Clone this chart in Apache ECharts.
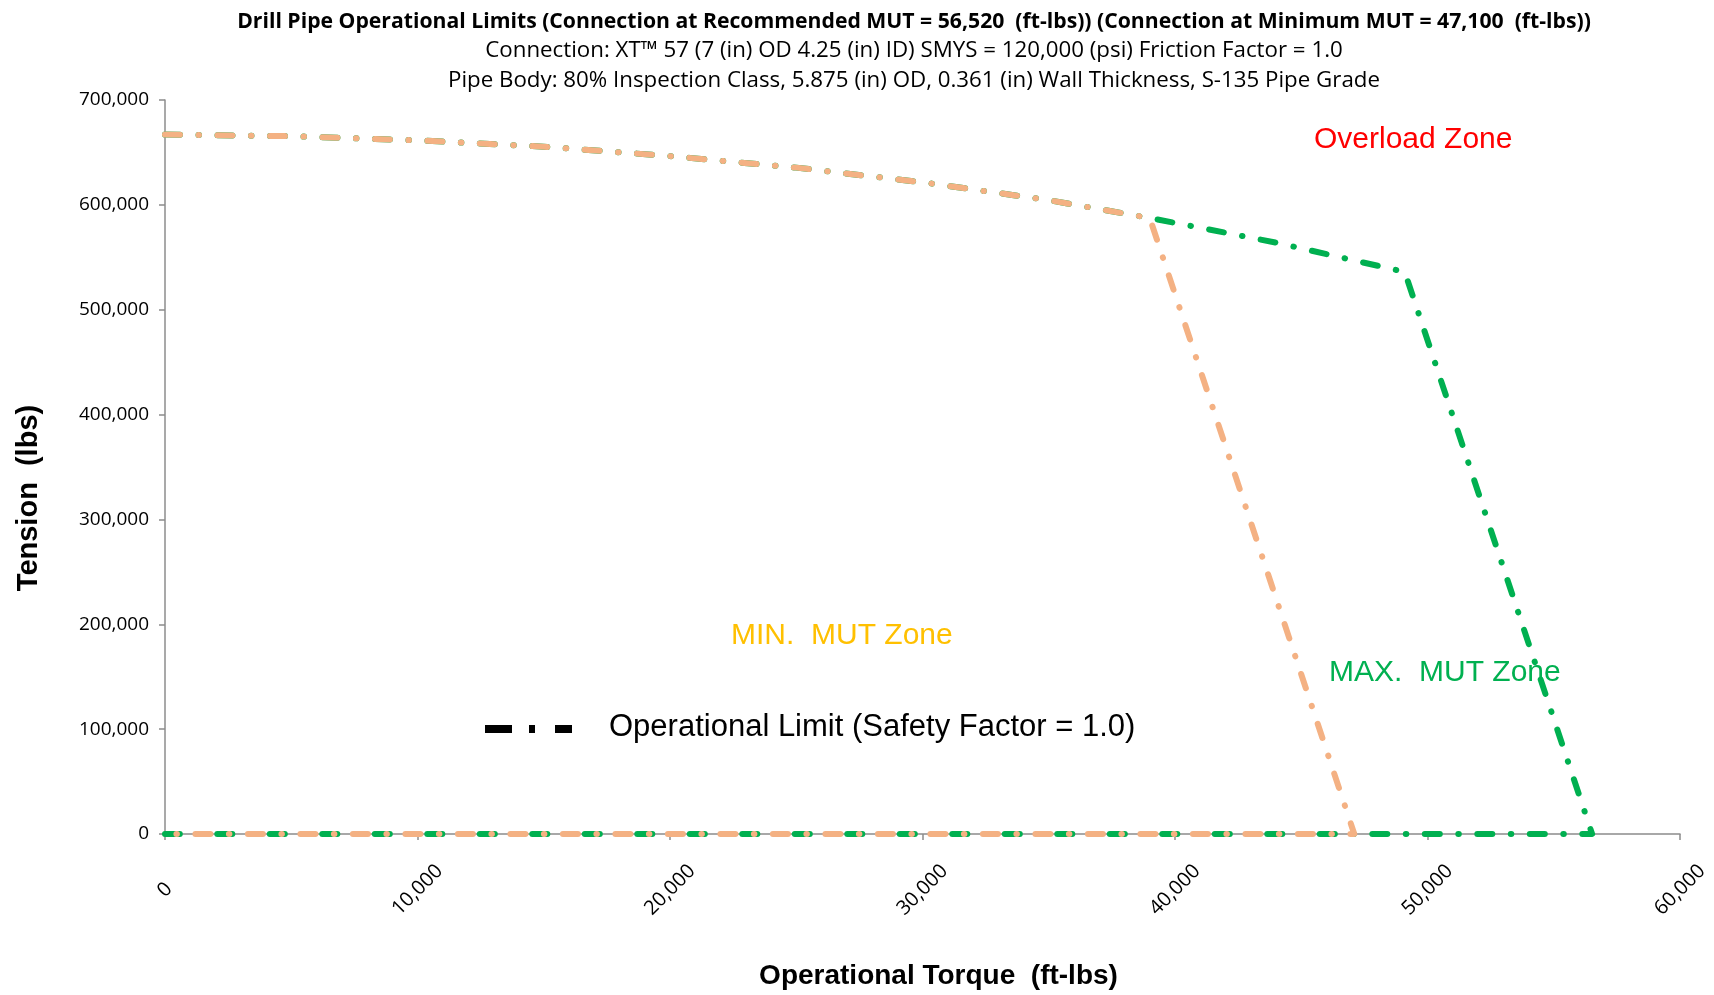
<!DOCTYPE html>
<html>
<head>
<meta charset="utf-8">
<script src="https://cdn.jsdelivr.net/npm/echarts@6/dist/echarts.min.js"></script>
<style>
html,body{margin:0;padding:0;background:#fff;}
#chart{width:1714px;height:995px;}
</style>
</head>
<body>
<div id="chart"></div>
<script>
// Shared pipe-body limit curve (torque ft-lbs, tension lbs)
const bodyTorque  = [0, 5000, 10000, 15000, 20000, 25000, 30000, 35000, 39000];
const bodyTension = [667000, 665500, 661500, 655500, 646500, 635500, 621500, 604500, 587500];
// Recommended MUT (green) continuation and connection limit
const maxTorque  = [44000, 49100, 56520, 0];
const maxTension = [564000, 536000, 0, 0];
// Minimum MUT (orange) connection limit
const minTorque  = [47100, 0];
const minTension = [0, 0];

const xTicks = [0, 10000, 20000, 30000, 40000, 50000, 60000];
const yTicks = [0, 100000, 200000, 300000, 400000, 500000, 600000, 700000];

const titleLines = [
  'Drill Pipe Operational Limits (Connection at Recommended MUT = 56,520  (ft-lbs)) (Connection at Minimum MUT = 47,100  (ft-lbs))',
  'Connection: XT\u2122 57 (7 (in) OD 4.25 (in) ID) SMYS = 120,000 (psi) Friction Factor = 1.0',
  'Pipe Body: 80% Inspection Class, 5.875 (in) OD, 0.361 (in) Wall Thickness, S-135 Pipe Grade'
];
const legendName = 'Operational Limit (Safety Factor = 1.0)';
const zoneLabels = ['Overload Zone', 'MIN.  MUT Zone', 'MAX.  MUT Zone'];

function pairs(xs, ys) { return xs.map((x, i) => [x, ys[i]]); }
const greenData = pairs(bodyTorque, bodyTension).concat(pairs(maxTorque, maxTension));
const orangeData = pairs(bodyTorque, bodyTension).concat(pairs(minTorque, minTension));

const fmt = v => v.toLocaleString('en-US');
const dashDot = [15, 18.5, 0.5, 18.5];

const chart = echarts.init(document.getElementById('chart'), null, {renderer: 'canvas'});
chart.setOption({
  backgroundColor: '#ffffff',
  animation: false,
  title: [
    {text: titleLines[0], left: 909, top: 6, textAlign: 'center',
     textStyle: {fontFamily: 'Open Sans', fontWeight: 'bold', fontSize: 21.2, color: '#000'}},
    {text: titleLines[1], left: 909, top: 35, textAlign: 'center',
     textStyle: {fontFamily: 'Open Sans', fontWeight: 'normal', fontSize: 22.3, color: '#000'}},
    {text: titleLines[2], left: 909, top: 65, textAlign: 'center',
     textStyle: {fontFamily: 'Open Sans', fontWeight: 'normal', fontSize: 22.3, color: '#000'}}
  ],
  grid: {left: 165, right: 34, top: 100, bottom: 158, containLabel: false},
  xAxis: {
    type: 'value', min: 0, max: 60000, interval: 10000,
    name: 'Operational Torque  (ft-lbs)', nameLocation: 'middle', nameGap: 128,
    nameTextStyle: {fontFamily: 'Liberation Sans', fontWeight: 'bold', fontSize: 28, color: '#000', padding: [0, 0, 0, 32]},
    axisLine: {show: true, lineStyle: {color: '#8c8c8c', width: 1.5}},
    axisTick: {show: true, length: 6, lineStyle: {color: '#8c8c8c', width: 1.5}},
    splitLine: {show: false},
    axisLabel: {rotate: 45, margin: 56, align: 'center', verticalAlign: 'middle',
      fontFamily: 'Open Sans', fontSize: 20, color: '#000', formatter: v => fmt(v)}
  },
  yAxis: {
    type: 'value', min: 0, max: 700000, interval: 100000,
    name: 'Tension  (lbs)', nameLocation: 'middle', nameGap: 122, nameRotate: 90,
    nameTextStyle: {fontFamily: 'Liberation Sans', fontWeight: 'bold', fontSize: 29, color: '#000', padding: [0, 62, 0, 0]},
    axisLine: {show: true, lineStyle: {color: '#8c8c8c', width: 1.5}},
    axisTick: {show: true, length: 6, lineStyle: {color: '#8c8c8c', width: 1.5}},
    splitLine: {show: false},
    axisLabel: {margin: 16, fontFamily: 'Open Sans', fontSize: 19, color: '#000', formatter: v => fmt(v)}
  },
  series: [
    {name: 'Recommended MUT', type: 'line', data: greenData, symbol: 'none', z: 2,
     lineStyle: {color: '#00B050', width: 6, type: dashDot, cap: 'round', join: 'round'}},
    {name: 'Minimum MUT', type: 'line', data: orangeData, symbol: 'none', z: 3,
     lineStyle: {color: '#F4B183', width: 6, type: dashDot, cap: 'round', join: 'round'}}
  ],
  graphic: [
    {type: 'text', left: 1314, top: 125, style: {text: zoneLabels[0], fontFamily: 'Liberation Sans', fontSize: 30, fill: '#FF0000'}},
    {type: 'text', left: 731, top: 621, style: {text: zoneLabels[1], fontFamily: 'Liberation Sans', fontSize: 30, fill: '#FFC000'}},
    {type: 'text', left: 1329, top: 658, style: {text: zoneLabels[2], fontFamily: 'Liberation Sans', fontSize: 30, fill: '#00B050'}},
    {type: 'line', shape: {x1: 485, y1: 729, x2: 572, y2: 729},
     style: {stroke: '#000', lineWidth: 8, lineDash: [27, 17, 6, 20]}},
    {type: 'text', left: 609, top: 712, style: {text: legendName, fontFamily: 'Liberation Sans', fontSize: 31, fill: '#000'}}
  ]
});
</script>
</body>
</html>
